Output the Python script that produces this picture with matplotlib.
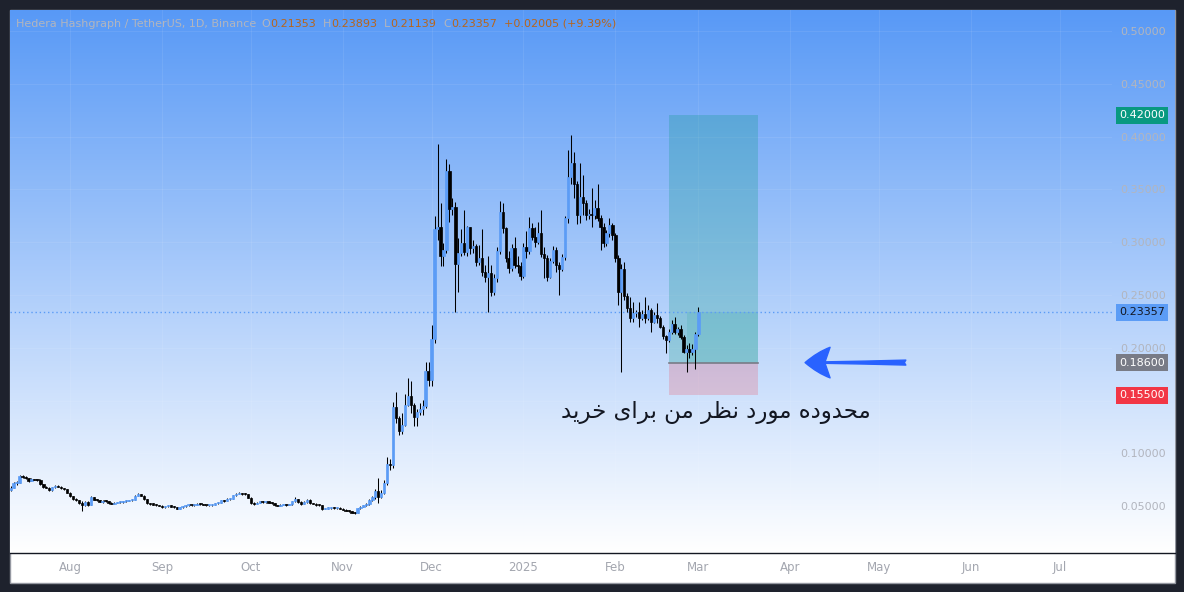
import numpy as np
import pandas as pd
import matplotlib
matplotlib.use("Agg")
import matplotlib.pyplot as plt
import matplotlib.dates as mdates
import matplotlib.transforms as mtrans
from matplotlib.patches import Rectangle
from matplotlib.lines import Line2D

W, H = 1184, 592

# HBAR/USDT daily candles, 2024-07-12 .. 2025-03-01
# open of every bar = close of the bar before
start_day = "2024-07-12"
first_open = 0.0653
closes = [
    # Jul (12th ->)
    0.0676, 0.0717, 0.0723, 0.0789, 0.0780, 0.0764, 0.0740, 0.0755, 0.0752, 0.0750,
    0.0707, 0.0679, 0.0676, 0.0650, 0.0679, 0.0695, 0.0682, 0.0670, 0.0660, 0.0628,
    # Aug
    0.0595, 0.0570, 0.0555, 0.0535, 0.0511, 0.0540, 0.0512, 0.0585, 0.0560, 0.0555,
    0.0543, 0.0548, 0.0545, 0.0530, 0.0525, 0.0532, 0.0537, 0.0540, 0.0545, 0.0550,
    0.0555, 0.0560, 0.0597, 0.0612, 0.0600, 0.0565, 0.0527, 0.0520, 0.0516, 0.0508, 0.0505,
    # Sep
    0.0488, 0.0500, 0.0510, 0.0495, 0.0490, 0.0478, 0.0490, 0.0500, 0.0512, 0.0512,
    0.0510, 0.0512, 0.0524, 0.0518, 0.0511, 0.0508, 0.0510, 0.0515, 0.0527, 0.0530,
    0.0557, 0.0548, 0.0570, 0.0572, 0.0603, 0.0617, 0.0620, 0.0618, 0.0612, 0.0580,
    # Oct
    0.0535, 0.0525, 0.0535, 0.0545, 0.0538, 0.0545, 0.0535, 0.0527, 0.0510, 0.0505,
    0.0512, 0.0515, 0.0512, 0.0520, 0.0545, 0.0565, 0.0540, 0.0520, 0.0538, 0.0560,
    0.0530, 0.0524, 0.0512, 0.0508, 0.0470, 0.0478, 0.0483, 0.0486, 0.0482, 0.0484, 0.0475,
    # Nov
    0.0466, 0.0458, 0.0452, 0.0440, 0.0435, 0.0480, 0.0496, 0.0508, 0.0521, 0.0559,
    0.0590, 0.0647, 0.0590, 0.0628, 0.0717, 0.0900, 0.0890, 0.1443, 0.1333, 0.1215,
    0.1269, 0.1458, 0.1544, 0.1458, 0.1342, 0.1395, 0.1418, 0.1449, 0.1783, 0.1695,
    # Dec
    0.2081, 0.3122, 0.3147, 0.2869, 0.2926, 0.3674, 0.3314, 0.3336, 0.2794, 0.2895,
    0.2989, 0.2910, 0.3141, 0.2942, 0.2964, 0.2816, 0.2847, 0.2721, 0.2673, 0.2705,
    0.2532, 0.2658, 0.2917, 0.3289, 0.3131, 0.2847, 0.2759, 0.2942, 0.2784, 0.2775, 0.2680,
    # Jan
    0.2958, 0.2917, 0.3131, 0.3052, 0.3005, 0.3084, 0.2885, 0.2847, 0.2674, 0.2822,
    0.2926, 0.2784, 0.2746, 0.2863, 0.3226, 0.3620, 0.3747, 0.3548, 0.3258, 0.3431,
    0.3368, 0.3258, 0.3270, 0.3258, 0.3321, 0.3232, 0.3147, 0.2989, 0.3084, 0.3163, 0.3068,
    # Feb
    0.2847, 0.2532, 0.2746, 0.2490, 0.2374, 0.2279, 0.2326, 0.2335, 0.2285, 0.2318,
    0.2279, 0.2358, 0.2247, 0.2311, 0.2279, 0.2200, 0.2112, 0.2074, 0.2153, 0.2225,
    0.2153, 0.2175, 0.2105, 0.1963, 0.1990, 0.1960, 0.1985, 0.21353,
    # Mar
    0.23357,
]
highs = [
    0.0690, 0.0725, 0.0735, 0.0800, 0.0800, 0.0785, 0.0770, 0.0765, 0.0760, 0.0762,
    0.0760, 0.0712, 0.0690, 0.0680, 0.0685, 0.0705, 0.0700, 0.0690, 0.0675, 0.0665,
    0.0638, 0.0600, 0.0578, 0.0560, 0.0545, 0.0550, 0.0548, 0.0592, 0.0590, 0.0565,
    0.0562, 0.0555, 0.0555, 0.0550, 0.0540, 0.0538, 0.0542, 0.0548, 0.0550, 0.0560,
    0.0562, 0.0565, 0.0605, 0.0625, 0.0618, 0.0605, 0.0570, 0.0535, 0.0528, 0.0520, 0.0512,
    0.0510, 0.0505, 0.0515, 0.0512, 0.0500, 0.0495, 0.0494, 0.0505, 0.0515, 0.0518,
    0.0516, 0.0517, 0.0528, 0.0527, 0.0522, 0.0514, 0.0516, 0.0518, 0.0532, 0.0536,
    0.0562, 0.0560, 0.0576, 0.0580, 0.0610, 0.0622, 0.0630, 0.0625, 0.0622, 0.0618,
    0.0585, 0.0542, 0.0540, 0.0548, 0.0548, 0.0550, 0.0552, 0.0538, 0.0530, 0.0515,
    0.0518, 0.0520, 0.0518, 0.0525, 0.0552, 0.0590, 0.0570, 0.0545, 0.0545, 0.0566,
    0.0565, 0.0535, 0.0528, 0.0518, 0.0512, 0.0485, 0.0488, 0.0492, 0.0492, 0.0490, 0.0488,
    0.0480, 0.0470, 0.0462, 0.0456, 0.0445, 0.0484, 0.0502, 0.0515, 0.0530, 0.0570,
    0.0600, 0.0660, 0.0764, 0.0650, 0.0748, 0.0969, 0.0944, 0.1490, 0.1581, 0.1350,
    0.1380, 0.1560, 0.1711, 0.1688, 0.1481, 0.1420, 0.1475, 0.1506, 0.1868, 0.1868,
    0.2216, 0.3248, 0.3930, 0.3374, 0.2989, 0.3788, 0.3741, 0.3415, 0.3380, 0.3036,
    0.3122, 0.3305, 0.3153, 0.3141, 0.3020, 0.2985, 0.2970, 0.3122, 0.2780, 0.2869,
    0.2780, 0.2700, 0.2950, 0.3390, 0.3368, 0.3145, 0.2920, 0.2980, 0.3046, 0.2870, 0.2810,
    0.2990, 0.3106, 0.3242, 0.3180, 0.3147, 0.3194, 0.3305, 0.2958, 0.2880, 0.2850,
    0.2965, 0.2950, 0.2810, 0.2890, 0.3250, 0.3873, 0.4015, 0.3857, 0.3580, 0.3747,
    0.3636, 0.3400, 0.3310, 0.3510, 0.3400, 0.3548, 0.3260, 0.3180, 0.3120, 0.3226, 0.3180,
    0.3090, 0.2880, 0.2790, 0.2810, 0.2516, 0.2484, 0.2437, 0.2360, 0.2437, 0.2355,
    0.2484, 0.2405, 0.2380, 0.2340, 0.2421, 0.2305, 0.2215, 0.2125, 0.2175, 0.2263,
    0.2295, 0.2200, 0.2220, 0.2120, 0.2030, 0.2045, 0.2040, 0.2150,
    0.23893,
]
lows = [
    0.0645, 0.0670, 0.0705, 0.0715, 0.0765, 0.0755, 0.0730, 0.0735, 0.0745, 0.0740,
    0.0700, 0.0672, 0.0668, 0.0640, 0.0648, 0.0675, 0.0678, 0.0665, 0.0655, 0.0622,
    0.0585, 0.0562, 0.0545, 0.0525, 0.0458, 0.0505, 0.0505, 0.0510, 0.0555, 0.0550,
    0.0538, 0.0535, 0.0538, 0.0525, 0.0518, 0.0520, 0.0530, 0.0535, 0.0535, 0.0542,
    0.0545, 0.0550, 0.0556, 0.0595, 0.0595, 0.0560, 0.0522, 0.0512, 0.0510, 0.0502, 0.0500,
    0.0485, 0.0486, 0.0496, 0.0490, 0.0484, 0.0474, 0.0476, 0.0487, 0.0496, 0.0505,
    0.0502, 0.0506, 0.0508, 0.0512, 0.0508, 0.0500, 0.0502, 0.0499, 0.0512, 0.0522,
    0.0528, 0.0540, 0.0545, 0.0562, 0.0568, 0.0598, 0.0612, 0.0610, 0.0605, 0.0575,
    0.0525, 0.0515, 0.0520, 0.0530, 0.0532, 0.0535, 0.0530, 0.0522, 0.0505, 0.0498,
    0.0502, 0.0508, 0.0505, 0.0508, 0.0515, 0.0540, 0.0535, 0.0515, 0.0518, 0.0535,
    0.0525, 0.0518, 0.0506, 0.0500, 0.0462, 0.0470, 0.0474, 0.0478, 0.0478, 0.0476, 0.0470,
    0.0460, 0.0452, 0.0445, 0.0432, 0.0428, 0.0432, 0.0475, 0.0492, 0.0500, 0.0515,
    0.0550, 0.0570, 0.0527, 0.0580, 0.0620, 0.0700, 0.0843, 0.0860, 0.1285, 0.1174,
    0.1184, 0.1259, 0.1450, 0.1380, 0.1259, 0.1259, 0.1364, 0.1364, 0.1430, 0.1638,
    0.1638, 0.2050, 0.3021, 0.2775, 0.2775, 0.2900, 0.3194, 0.3260, 0.2342, 0.2532,
    0.2870, 0.2880, 0.2870, 0.2890, 0.2900, 0.2770, 0.2780, 0.2680, 0.2620, 0.2342,
    0.2490, 0.2500, 0.2620, 0.2890, 0.3090, 0.2810, 0.2710, 0.2730, 0.2755, 0.2705, 0.2640,
    0.2660, 0.2850, 0.2890, 0.3020, 0.2958, 0.2980, 0.2863, 0.2664, 0.2633, 0.2658,
    0.2800, 0.2721, 0.2500, 0.2727, 0.2830, 0.3180, 0.3550, 0.3415, 0.3172, 0.3180,
    0.3258, 0.3210, 0.3215, 0.3147, 0.3220, 0.3200, 0.2926, 0.2950, 0.2960, 0.3050, 0.3021,
    0.2810, 0.2405, 0.1774, 0.2450, 0.2340, 0.2247, 0.2247, 0.2290, 0.2200, 0.2265,
    0.2232, 0.2260, 0.2153, 0.2232, 0.2232, 0.2185, 0.2080, 0.1954, 0.2055, 0.2135,
    0.2135, 0.2120, 0.2080, 0.1950, 0.1770, 0.1900, 0.1930, 0.1800,
    0.21139,
]

price_ticks = [0.05, 0.10, 0.15, 0.20, 0.25, 0.30, 0.35, 0.40, 0.45, 0.50]
hidden_ticks = [0.15]          # covered by the stop-loss label on the scale
month_ticks = ["2024-08-01", "2024-09-01", "2024-10-01", "2024-11-01", "2024-12-01",
               "2025-01-01", "2025-02-01", "2025-03-01", "2025-04-01", "2025-05-01",
               "2025-06-01", "2025-07-01"]
month_labels = ["Aug", "Sep", "Oct", "Nov", "Dec", "2025", "Feb", "Mar", "Apr", "May", "Jun", "Jul"]

# long position drawing
entry, target, stop = 0.186, 0.42, 0.155
pos_start, pos_fill, pos_end = "2025-02-19", "2025-02-25", "2025-03-21"
arrow_tip, arrow_tail = "2025-04-06", "2025-05-10"

title = "Hedera Hashgraph / TetherUS, 1D, Binance"
ohlc_text = [("O", "0.21353"), ("H", "0.23893"), ("L", "0.21139"), ("C", "0.23357")]
change_text = "+0.02005 (+9.39%)"
note = "محدوده مورد نظر من برای خرید"

# contextual forms (isolated, final, initial, medial) for the letters used in the note
FORMS = {
    "ا": ("\uFE8D", "\uFE8E", None, None),
    "ب": ("\uFE8F", "\uFE90", "\uFE91", "\uFE92"),
    "ح": ("\uFEA1", "\uFEA2", "\uFEA3", "\uFEA4"),
    "خ": ("\uFEA5", "\uFEA6", "\uFEA7", "\uFEA8"),
    "د": ("\uFEA9", "\uFEAA", None, None),
    "ر": ("\uFEAD", "\uFEAE", None, None),
    "ظ": ("\uFEC5", "\uFEC6", "\uFEC7", "\uFEC8"),
    "م": ("\uFEE1", "\uFEE2", "\uFEE3", "\uFEE4"),
    "ن": ("\uFEE5", "\uFEE6", "\uFEE7", "\uFEE8"),
    "ه": ("\uFEE9", "\uFEEA", "\uFEEB", "\uFEEC"),
    "و": ("\uFEED", "\uFEEE", None, None),
    "ی": ("\uFBFC", "\uFBFD", "\uFBFE", "\uFBFF"),
}


def shape_rtl(text):
    # matplotlib does no arabic shaping / bidi, so do it by hand
    out = []
    for i, ch in enumerate(text):
        if ch not in FORMS:
            out.append(ch)
            continue
        prev = text[i - 1] if i > 0 else ""
        nxt = text[i + 1] if i + 1 < len(text) else ""
        join_prev = prev in FORMS and FORMS[prev][2] is not None
        join_next = nxt in FORMS and FORMS[ch][2] is not None
        iso, fin, ini, med = FORMS[ch]
        if join_prev and join_next:
            out.append(med)
        elif join_prev:
            out.append(fin)
        elif join_next:
            out.append(ini)
        else:
            out.append(iso)
    return "".join(reversed(out))


def fx(px):
    return px / W


def fy(py):
    return 1 - py / H


closes = np.array(closes)
highs = np.array(highs)
lows = np.array(lows)
opens = np.concatenate([[first_open], closes[:-1]])
dates = pd.date_range(start_day, periods=len(closes), freq="D")
x = mdates.date2num(dates)

fig = plt.figure(figsize=(W / 100, H / 100), dpi=100, facecolor="#1e222d")

# chart panel + gradient background
fig.patches.append(Rectangle((fx(10), fy(583)), 1165 / W, 573 / H, transform=fig.transFigure,
                             facecolor="white", edgecolor="#9598a1", lw=1, zorder=-1))
ax_bg = fig.add_axes([fx(10), fy(553), 1165 / W, 543 / H])
top = np.array([88, 153, 246]) / 255
bot = np.array([255, 255, 255]) / 255
t = np.linspace(0, 1, 256)[:, None]
grad = top[None, :] * (1 - t) + bot[None, :] * t
ax_bg.imshow(grad[:, None, :], aspect="auto", extent=(0, 1, 0, 1))
ax_bg.set_axis_off()
ax_bg.set_zorder(0)

ax = fig.add_axes([fx(10), fy(553), (1112 - 10) / W, 543 / H])
ax.set_zorder(1)
ax.patch.set_visible(False)

px_per_day = 2.964
aug1 = mdates.date2num(pd.Timestamp("2024-08-01"))
ax.set_xlim(aug1 + (10 - 70) / px_per_day, aug1 + (1112 - 70) / px_per_day)
ax.set_ylim(0.5 - 522 / 1056, 0.5 + 21 / 1056)

# long position boxes
d0, d1, d2 = [mdates.date2num(pd.Timestamp(s)) for s in (pos_start, pos_fill, pos_end)]
ax.add_patch(Rectangle((d0, entry), d2 - d0, target - entry, facecolor="#089981", alpha=0.25, lw=0, zorder=1))
ax.add_patch(Rectangle((d0, stop), d2 - d0, entry - stop, facecolor="#f23645", alpha=0.2, lw=0, zorder=1))
ax.add_patch(Rectangle((d1, entry), d2 - d1, closes[-1] - entry, facecolor="#089981", alpha=0.13, lw=0, zorder=1))
ax.plot([d0, d2], [entry, entry], color="#787b86", lw=1.2, zorder=2)

# candles
up = closes >= opens
body_lo = np.minimum(opens, closes)
body_h = np.maximum(np.abs(closes - opens), 0.001)
body_col = np.where(up, "#5b9cf6", "#000000")
ax.vlines(x, lows, highs, color="black", lw=0.75, zorder=3)
ax.bar(x, body_h, bottom=body_lo, width=0.8, color=body_col, edgecolor=body_col,
       lw=0.5, zorder=4)

# last price line
ax.axhline(closes[-1], color="#5b9cf6", lw=1, ls=(0, (1, 2)), zorder=2)

# arrow pointing at the entry zone
ax.annotate("", xy=(mdates.date2num(pd.Timestamp(arrow_tip)), entry),
            xytext=(mdates.date2num(pd.Timestamp(arrow_tail)), entry),
            arrowprops=dict(arrowstyle="fancy,head_length=0.9,head_width=1.1,tail_width=0.18",
                            color="#2962ff", mutation_scale=20, shrinkA=0, shrinkB=0), zorder=5)

# axes cosmetics
ax.set_xticks(mdates.date2num(pd.to_datetime(month_ticks)))
ax.set_xticklabels(month_labels)
ax.yaxis.tick_right()
ax.set_yticks(price_ticks)
ax.set_yticklabels(["" if p in hidden_ticks else f"{p:.5f}" for p in price_ticks])
ax.tick_params(axis="x", length=0, pad=6, labelsize=8.5, labelcolor="#a3a6af")
ax.tick_params(axis="y", length=0, pad=5.8, labelsize=8, labelcolor="#b2b5be")
ax.grid(True, color="white", alpha=0.08, lw=0.8)
ax.set_axisbelow(True)
for s in ax.spines.values():
    s.set_visible(False)

fig.lines.append(Line2D([fx(10), fx(1175)], [fy(553), fy(553)], transform=fig.transFigure,
                        color="#131722", lw=1))

# price scale labels
tr = mtrans.blended_transform_factory(fig.transFigure, ax.transData)
for val, bc, tc in [(target, "#089981", "white"), (closes[-1], "#5b9cf6", "#131722"),
                    (entry, "#787b86", "white"), (stop, "#f23645", "white")]:
    fig.text(fx(1142), val, f"{val:.5f}", transform=tr, ha="center", va="center", fontsize=8,
             color=tc, zorder=10, bbox=dict(boxstyle="square,pad=0.3", fc=bc, ec="none"))

# header legend
renderer = fig.canvas.get_renderer()


def put(px, s, color):
    txt = fig.text(fx(px), fy(24), s, color=color, fontsize=8, ha="left", va="center")
    return txt.get_window_extent(renderer).x1


xe = put(16, title, "#b2b5be")
xe += 5
for letter, val in ohlc_text:
    xe = put(xe, letter, "#b2b5be")
    xe = put(xe, val, "#b8651b") + 7
put(xe, change_text, "#b8651b")

fig.text(fx(716), fy(412), shape_rtl(note), fontsize=16.5, color="#131722",
         ha="center", va="center", family=["DejaVu Sans"])

fig.savefig("out.png", dpi=100, facecolor=fig.get_facecolor())
